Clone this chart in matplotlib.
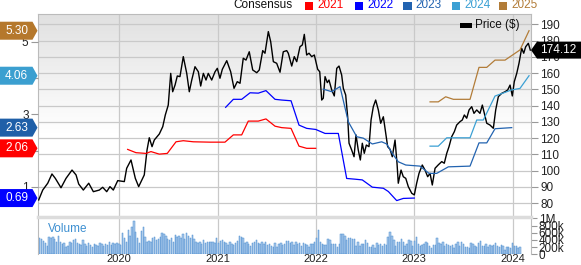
import numpy as np
import matplotlib
matplotlib.use('Agg')
import matplotlib.pyplot as plt
from matplotlib.patches import Polygon, Rectangle
from matplotlib.transforms import IdentityTransform
from matplotlib.colors import LinearSegmentedColormap

plt.rcParams['font.family'] = ['Liberation Sans', 'DejaVu Sans']

# price (decimal years, $)
price_x = [2019.180, 2019.221, 2019.272, 2019.315, 2019.349, 2019.407, 2019.458, 2019.519, 2019.560, 2019.587,
           2019.634, 2019.689, 2019.736, 2019.797, 2019.831, 2019.872, 2019.905, 2019.939, 2019.984, 2020.051,
           2020.075, 2020.119, 2020.163, 2020.197, 2020.254, 2020.282, 2020.305, 2020.333, 2020.356, 2020.407,
           2020.442, 2020.468, 2020.498, 2020.523, 2020.543, 2020.567, 2020.590, 2020.617, 2020.651, 2020.686,
           2020.712, 2020.737, 2020.770, 2020.804, 2020.828, 2020.855, 2020.882, 2020.905, 2020.940, 2020.974,
           2020.997, 2021.024, 2021.048, 2021.093, 2021.133, 2021.167, 2021.200, 2021.228, 2021.261, 2021.289,
           2021.322, 2021.357, 2021.398, 2021.424, 2021.459, 2021.482, 2021.516, 2021.540, 2021.567, 2021.601,
           2021.635, 2021.668, 2021.703, 2021.719, 2021.754, 2021.780, 2021.805, 2021.838, 2021.862, 2021.882,
           2021.906, 2021.930, 2021.957, 2021.984, 2022.018, 2022.039, 2022.059, 2022.075, 2022.093, 2022.116,
           2022.133, 2022.161, 2022.187, 2022.212, 2022.235, 2022.262, 2022.279, 2022.303, 2022.323, 2022.337,
           2022.364, 2022.388, 2022.408, 2022.431, 2022.452, 2022.472, 2022.492, 2022.513, 2022.540, 2022.561,
           2022.584, 2022.608, 2022.635, 2022.659, 2022.686, 2022.710, 2022.730, 2022.754, 2022.777, 2022.805,
           2022.825, 2022.838, 2022.866, 2022.889, 2022.914, 2022.940, 2022.975, 2023.001, 2023.025, 2023.049,
           2023.082, 2023.110, 2023.137, 2023.161, 2023.184, 2023.212, 2023.245, 2023.280, 2023.306, 2023.331,
           2023.354, 2023.381, 2023.408, 2023.432, 2023.466, 2023.489, 2023.510, 2023.534, 2023.558, 2023.585,
           2023.608, 2023.636, 2023.669, 2023.693, 2023.713, 2023.738, 2023.771, 2023.805, 2023.829, 2023.856,
           2023.890, 2023.924, 2023.951, 2023.975, 2023.998, 2024.018, 2024.043, 2024.066, 2024.093, 2024.114,
           2024.134, 2024.161, 2024.181]
price_y = [81.9, 88.0, 92.2, 97.9, 95.2, 89.4, 95.2, 100.3, 97.3, 91.7,
           88.0, 92.2, 87.0, 88.0, 89.7, 87.0, 90.1, 88.0, 93.8, 93.2,
           101.4, 106.5, 95.2, 90.1, 97.3, 112.6, 120.2, 114.7, 118.8, 122.5,
           127.0, 134.2, 140.3, 159.8, 148.5, 152.6, 158.2, 157.8, 170.1, 159.8,
           148.5, 155.7, 163.9, 160.8, 152.0, 159.8, 155.7, 159.8, 155.7, 160.8,
           162.9, 156.8, 162.3, 167.6, 160.8, 150.6, 154.7, 153.7, 169.1, 168.0,
           173.1, 161.9, 160.2, 161.9, 173.8, 172.2, 185.5, 179.3, 167.0, 166.0,
           160.5, 173.1, 173.8, 172.2, 164.3, 170.1, 167.0, 176.2, 177.3, 183.8,
           171.1, 172.2, 170.1, 171.1, 162.3, 160.8, 143.4, 144.5, 157.8, 154.1,
           155.7, 149.6, 145.9, 162.9, 164.3, 158.8, 150.6, 146.5, 133.1, 116.8,
           112.6, 108.5, 121.9, 112.6, 106.5, 116.8, 110.6, 115.7, 114.7, 131.1,
           139.3, 143.4, 137.3, 129.1, 133.1, 122.9, 114.7, 113.1, 108.5, 118.8,
           104.5, 92.2, 100.3, 96.2, 95.2, 90.1, 86.0, 85.0, 92.2, 98.3,
           103.4, 100.3, 96.2, 98.3, 91.1, 101.4, 103.5, 105.5, 104.5, 110.6,
           114.7, 120.8, 123.9, 128.0, 130.1, 131.1, 134.2, 132.2, 137.3, 139.3,
           135.2, 137.3, 135.2, 140.3, 135.2, 129.1, 128.0, 126.0, 137.3, 145.5,
           147.5, 148.5, 149.6, 152.6, 145.9, 154.7, 159.8, 166.0, 175.2, 172.2,
           176.2, 178.3, 174.12]

# consensus EPS estimates per fiscal year
eps21_x = [2020.085, 2020.170, 2020.272, 2020.322, 2020.407, 2020.488, 2020.577, 2020.651, 2020.753, 2020.923,
           2021.075, 2021.160, 2021.245, 2021.312, 2021.414, 2021.492, 2021.584, 2021.652, 2021.747, 2021.828,
           2021.906, 2021.998]
eps21_y = [2.03, 1.94, 1.92, 1.97, 1.90, 1.92, 2.24, 2.27, 2.24, 2.23,
           2.23, 2.43, 2.43, 2.81, 2.81, 2.87, 2.67, 2.63, 2.61, 2.12,
           2.06, 2.06]
eps22_x = [2021.082, 2021.160, 2021.245, 2021.330, 2021.414, 2021.492, 2021.584, 2021.652, 2021.747, 2021.828,
           2021.906, 2021.998, 2022.093, 2022.228, 2022.313, 2022.398, 2022.472, 2022.574, 2022.686, 2022.737,
           2022.822, 2022.889, 2023.001]
eps22_y = [3.19, 3.41, 3.41, 3.59, 3.58, 3.65, 3.41, 3.39, 3.37, 2.70,
           2.61, 2.58, 2.47, 2.47, 1.23, 1.21, 1.19, 0.99, 0.96, 0.87,
           0.62, 0.68, 0.69]
eps23_x = [2022.075, 2022.161, 2022.245, 2022.330, 2022.415, 2022.482, 2022.574, 2022.669, 2022.720, 2022.777,
           2022.838, 2022.914, 2023.059, 2023.151, 2023.229, 2023.347, 2023.568, 2023.659, 2023.738, 2023.822,
           2023.992]
eps23_y = [3.69, 3.62, 3.76, 2.79, 2.38, 2.34, 2.18, 2.24, 2.18, 1.92,
           1.69, 1.60, 1.57, 1.37, 1.37, 1.55, 1.57, 2.21, 2.21, 2.60,
           2.63]
eps24_x = [2023.161, 2023.245, 2023.331, 2023.568, 2023.636, 2023.703, 2023.822, 2023.992, 2024.076, 2024.168]
eps24_y = [2.12, 2.12, 2.35, 2.35, 2.84, 2.84, 3.50, 3.67, 3.71, 4.06]
eps25_x = [2023.161, 2023.245, 2023.320, 2023.398, 2023.568, 2023.659, 2023.738, 2023.822, 2023.924, 2024.076,
           2024.168]
eps25_y = [3.34, 3.34, 3.48, 3.41, 3.41, 4.29, 4.29, 4.49, 4.49, 4.77,
           5.30]

years = ['2021', '2022', '2023', '2024', '2025']
colors = ['#ff0000', '#0000ff', '#2263b0', '#3ba0d4', '#b27c38']
box_colors = ['#ff0000', '#0000ff', '#1f5fa8', '#3b9fd0', '#b5782c']
last_eps = [2.06, 0.69, 2.63, 4.06, 5.30]

# weekly volume, thousands
volume = [444, 426, 370, 306, 241, 491, 463, 491, 426, 352, 519, 333, 278, 306, 213, 241, 352, 306, 398, 426,
          306, 278, 259, 398, 278, 241, 306, 259, 213, 278, 259, 241, 306, 278, 241, 278, 259, 333, 259, 306,
          278,
          306, 278, 259, 583, 444, 352, 676, 519, 769, 926, 630, 444, 306, 648, 769, 491, 352, 370, 333, 444,
          491, 398, 426, 491, 583, 556, 519, 426, 398, 444, 352, 537, 491, 519, 444, 556, 426, 583, 519, 444,
          537, 426, 333, 306, 352, 278, 398, 306, 333, 352,
          352, 333, 306, 444, 306, 370, 398, 352, 306, 259, 333, 278, 259, 306, 370, 519, 491, 444, 306, 352,
          278, 241, 306, 352, 398, 306, 278, 333, 278, 352, 259, 278, 241, 213, 306, 213, 278, 306, 259, 278,
          370, 370, 306, 333, 259, 352, 278, 306, 241, 306, 278, 259,
          213, 278, 278, 352, 463, 676, 333, 278, 259, 259, 426, 398, 278, 278, 278, 213, 278, 556, 556, 519,
          398, 463, 444, 426, 426, 241, 352, 241, 278, 278, 398, 306, 213, 213, 259, 185, 306, 259, 278, 241,
          278, 259, 491, 611, 519, 398, 241, 352, 333, 426, 352, 241,
          278, 398, 370, 241, 370, 491, 278, 241, 259, 278, 352, 306, 241, 185, 259, 259, 463, 306, 278, 333,
          241, 278, 259, 241, 259, 185, 278, 333, 241, 352, 278, 213, 213, 185, 306, 278, 241, 213, 306, 370,
          241, 241, 278, 213, 259, 241, 259, 306, 241, 213, 259, 241,
          120, 213, 213, 185, 306, 241, 241, 185, 213]
vol_start = 2019.19

price_ticks = list(range(80, 200, 10))
eps_ticks = [1, 2, 3, 4, 5]
eps_labels = ['1', '', '3', '', '5']
vol_ticks = [0, 200, 400, 600, 800, 1000]
vol_labels = ['0', '200k', '400k', '600k', '800k', '1M']
year_ticks = [2020, 2021, 2022, 2023, 2024]

W, H = 581, 265
fig = plt.figure(figsize=(W / 100, H / 100), dpi=100)


def rect(x0, y0, x1, y1):
    # pixel box (from top-left) -> figure fraction
    return [x0 / W, 1 - y1 / H, (x1 - x0) / W, (y1 - y0) / H]


def ftext(x, y, s, **kw):
    fig.text(x / W, 1 - y / H, s, **kw)


XL, XR, YT, YM, YB = 38.3, 530.5, 14.3, 217.3, 254.3
xlim = (2019.176, 2024.183)
tick_kw = dict(length=5, color='#999999', labelsize=8.5, pad=2, labelcolor='#222222')

# gradient background
bg = fig.add_axes(rect(XL, YT, XR, YM), zorder=-1)
cm = LinearSegmentedColormap.from_list('g', ['#e1e1e1', '#ffffff'])
bg.imshow(np.clip(np.linspace(0, 1.7, 200), 0, 1).reshape(-1, 1), cmap=cm, aspect='auto',
          extent=[0, 1, 0, 1], vmin=0, vmax=1)
bg.axis('off')

ax = fig.add_axes(rect(XL, YT, XR, YM))
ax.patch.set_visible(False)
ax_eps = ax.twinx()

# price on the right axis
ax.plot(price_x, price_y, color='black', lw=1.0, zorder=3)
ax.set_xlim(xlim)
ax.set_ylim(71.23, 196.15)
ax.set_yticks(price_ticks)
ax.set_xticks(year_ticks)
ax.grid(True, color='#c9c9c9', lw=0.9)
ax.yaxis.tick_right()
ax.tick_params(axis='y', **tick_kw)
ax.tick_params(axis='x', length=0, labelbottom=False)
for s in ax.spines.values():
    s.set_color('#bbbbbb')
ax.spines['bottom'].set_visible(False)

# consensus eps on the left axis
ax_eps.yaxis.tick_left()
ax_eps.set_xlim(xlim)
ax_eps.set_ylim(0.160, 5.752)
for xs, ys, c in zip([eps21_x, eps22_x, eps23_x, eps24_x, eps25_x],
                     [eps21_y, eps22_y, eps23_y, eps24_y, eps25_y], colors):
    ax_eps.plot(xs, ys, color=c, lw=0.9)
ax_eps.set_yticks(eps_ticks)
ax_eps.set_yticklabels(eps_labels)
ax_eps.tick_params(axis='y', **tick_kw)
for s in ax_eps.spines.values():
    s.set_visible(False)

# volume panel
vol = fig.add_axes(rect(XL, YM, XR, YB))
vx = vol_start + np.arange(len(volume)) / 52.18
vol.bar(vx, volume, width=0.75 / 52.18, color='#a7c8ea', edgecolor='#4d8ed0', linewidth=0.35)
vol.set_xlim(xlim)
vol.set_ylim(0, 1028)
vol.set_xticks(year_ticks)
vol.set_xticklabels([str(y) for y in year_ticks])
vol.grid(True, axis='x', color='#c9c9c9', lw=0.9)
vol.set_axisbelow(True)
vol.set_yticks(vol_ticks)
vol.set_yticklabels(vol_labels)
vol.yaxis.tick_right()
vol.tick_params(axis='y', length=4, color='#999999', labelsize=8.5, pad=2, labelcolor='#222222')
vol.tick_params(axis='x', length=0, labelsize=8, pad=0, labelcolor='#222222')
for s in vol.spines.values():
    s.set_color('#bbbbbb')
vol.spines['top'].set_color('#dcdcdc')
vol.spines['top'].set_linewidth(2.5)
vol.spines['bottom'].set_visible(False)
ftext(47.5, 229, 'Volume', color='#3d8fd1', fontsize=8.5, va='center', ha='left')

# consensus legend on top
ftext(293, 5.5, 'Consensus', fontsize=8.5, ha='right', va='center', color='#111111')
leg_x = [305, 355, 403, 452, 499]
for lx, yr, c in zip(leg_x, years, colors):
    fig.add_artist(Rectangle((lx / W, 1 - 9.5 / H), 8.5 / W, 8 / H, transform=fig.transFigure,
                             fc=c, ec='none'))
    ftext(lx + 12, 5.5, yr, fontsize=8.5, ha='left', va='center', color=c)

# price legend
fig.add_artist(Rectangle((460 / W, 1 - 27.5 / H), 12 / W, 5 / H, transform=fig.transFigure,
                         fc='black', ec='none'))
ftext(475, 25, 'Price ($)', fontsize=8.5, ha='left', va='center', color='#111111')

# eps value tags on the left
for val, c in zip(last_eps, box_colors):
    yc = ax_eps.transData.transform((2020, val))[1]
    verts = [(0, yc - 9), (32.5, yc - 9), (37.5, yc), (32.5, yc + 9), (0, yc + 9)]
    fig.add_artist(Polygon(verts, closed=True, transform=IdentityTransform(), fc=c, ec='none', zorder=5))
    fig.text(16.5, yc, f'{val:.2f}', transform=IdentityTransform(), color='white', fontsize=8.5,
             ha='center', va='center', zorder=6)

# last price tag on the right
yc = ax.transData.transform((2024, price_y[-1]))[1]
verts = [(531, yc), (537, yc - 8.5), (581, yc - 8.5), (581, yc + 8.5), (537, yc + 8.5)]
fig.add_artist(Polygon(verts, closed=True, transform=IdentityTransform(), fc='black', ec='none', zorder=5))
fig.text(558.5, yc, f'{price_y[-1]:.2f}', transform=IdentityTransform(), color='white', fontsize=8.5,
         ha='center', va='center', zorder=6)

fig.savefig('out.png', dpi=100)
